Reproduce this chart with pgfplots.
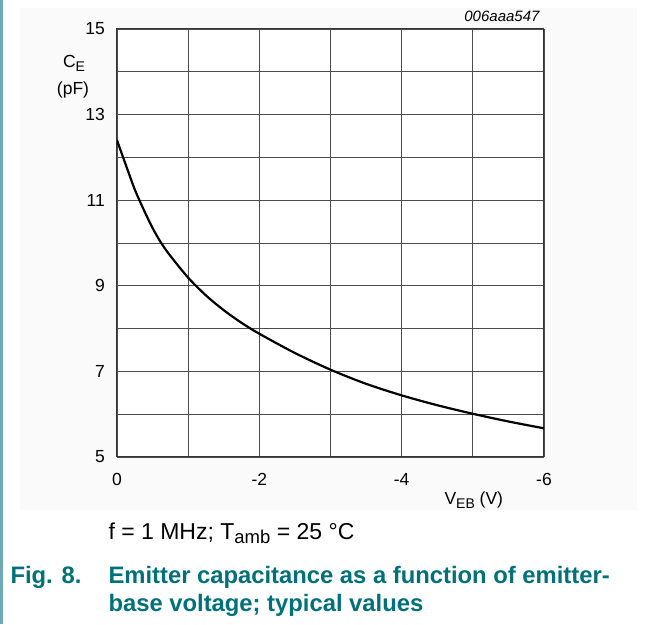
\documentclass[border=0pt]{standalone}
\usepackage{pgfplots}
\pgfplotsset{compat=1.18}
\usepackage{fontspec}
\setmainfont{Liberation Sans}
\definecolor{capteal}{RGB}{0,112,122}
\definecolor{edgeteal}{RGB}{110,170,182}
\begin{document}
\begin{tikzpicture}[x=1pt,y=1pt]
\path[use as bounding box] (0,0) rectangle (656,624);
\fill[black!2] (20,114) rectangle (637,616);
\fill[edgeteal] (0,0) rectangle (2.5,624);
\begin{axis}[
  at={(117pt,167pt)}, anchor=south west,
  scale only axis, width=427pt, height=428pt,
  xmin=-6, xmax=0, ymin=5, ymax=15, x dir=reverse,
  xtick={0,-2,-4,-6}, xticklabels={0,-2,-4,-6},
  minor xtick={-1,-3,-5},
  ytick={5,7,9,11,13,15}, yticklabels={5,7,9,11,13,15},
  minor ytick={6,8,10,12,14},
  grid=both,
  major grid style={black!70, line width=0.9pt},
  minor grid style={black!70, line width=0.9pt},
  axis line style={black!80, line width=1pt},
  tick style={draw=none},
  tick label style={font=\fontsize{17.5}{20}\selectfont, inner sep=0pt},
  xticklabel style={anchor=north, yshift=-16pt},
  yticklabel style={anchor=east, xshift=-12pt},
  axis background/.style={fill=white},
]
% C_E (pF) versus V_EB (V)
\addplot[black, line width=2.2pt, smooth, tension=0.5] coordinates {
  (0,12.40) (-0.125,11.82) (-0.25,11.25) (-0.375,10.78) (-0.5,10.35)
  (-0.625,9.99) (-0.75,9.70) (-1.0,9.19) (-1.25,8.775) (-1.5,8.43)
  (-1.75,8.135) (-2.0,7.88) (-2.5,7.43) (-3.0,7.04) (-3.5,6.71)
  (-4.0,6.44) (-4.5,6.21) (-5.0,6.01) (-5.5,5.83) (-6.0,5.67)
};
\end{axis}
\node[anchor=base east, font=\itshape\fontsize{15}{17}\selectfont] at (543,602.3) {006aaa547};
\node[anchor=base, font=\fontsize{17.5}{20}\selectfont] at (74,556) {C\raisebox{-3.5pt}{\fontsize{14}{14}\selectfont E}};
\node[anchor=base, font=\fontsize{17.5}{20}\selectfont] at (73,529) {(pF)};
\node[anchor=base west, font=\fontsize{17.5}{20}\selectfont] at (441,119) {V\raisebox{-3.5pt}{\fontsize{14}{14}\selectfont EB} (V)};
\node[anchor=base west, font=\fontsize{23}{25}\selectfont] at (105,84) {f = 1 MHz; T\raisebox{-4pt}{\fontsize{18.5}{18.5}\selectfont amb} = 25 °C};
\node[anchor=base west, text=capteal, font=\bfseries\fontsize{23.8}{29}\selectfont] at (7,41) {Fig. 8.};
\node[anchor=base west, text=capteal, font=\bfseries\fontsize{23.8}{29}\selectfont] at (105,41) {Emitter capacitance as a function of emitter-};
\node[anchor=base west, text=capteal, font=\bfseries\fontsize{23.8}{29}\selectfont] at (105,12.3) {base voltage; typical values};
\end{tikzpicture}
\end{document}
